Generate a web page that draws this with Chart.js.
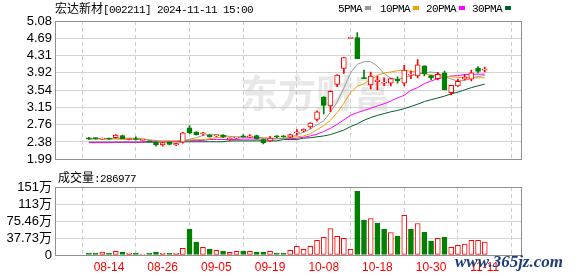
<!DOCTYPE html>
<html>
<head>
<meta charset="utf-8">
<script src="https://cdn.jsdelivr.net/npm/chart.js@4.4.1/dist/chart.umd.min.js"></script>
<style>
body { margin: 0; background: #fff; width: 578px; height: 276px; position: relative; overflow: hidden; }
canvas { position: absolute; left: 0; }
#main { top: 0; }
#vol { top: 170px; }
.t { position: absolute; white-space: nowrap; color: #000; font-size: 12px; line-height: 14px; }
.cjk { font-family: "Noto Sans CJK SC", sans-serif; }
.mono { font-family: "Liberation Mono", monospace; font-size: 11px; letter-spacing: -0.6px; }
.sq { position: absolute; width: 6px; height: 4px; top: 6px; }
#wm { position: absolute; left: 455px; top: 252px; font: bold italic 17px "Liberation Serif", serif; color: #1e3d7b; }
</style>
</head>
<body>
<canvas id="main" width="578" height="170"></canvas>
<canvas id="vol" width="578" height="106"></canvas>

<div class="t" style="left:55px;top:1px"><span class="cjk">宏达新材</span><span class="mono">[002211] 2024-11-11 15:00</span></div>

<div class="t mono" style="left:338px;top:2px">5PMA</div><div class="sq" style="left:365px;background:#999"></div>
<div class="t mono" style="left:380px;top:2px">10PMA</div><div class="sq" style="left:413px;background:#f0a000"></div>
<div class="t mono" style="left:426px;top:2px">20PMA</div><div class="sq" style="left:459px;background:#ff00ff"></div>
<div class="t mono" style="left:472px;top:2px">30PMA</div><div class="sq" style="left:505px;background:#00602a"></div>

<div class="t" style="left:58px;top:170px"><span class="cjk">成交量</span><span class="mono">:286977</span></div>
<div id="wm">www.365jz.com</div>

<script>
const dates = [
    '08-09','08-12','08-13','08-14','08-15','08-16','08-19','08-20','08-21','08-22',
    '08-23','08-26','08-27','08-28','08-29','08-30','09-02','09-03','09-04','09-05',
    '09-06','09-09','09-10','09-11','09-12','09-13','09-18','09-19','09-20','09-23',
    '09-24','09-25','09-26','09-27','09-30','10-08','10-09','10-10','10-11','10-14',
    '10-15','10-16','10-17','10-18','10-21','10-22','10-23','10-24','10-25','10-28',
    '10-29','10-30','10-31','11-01','11-04','11-05','11-06','11-07','11-08','11-11'
];
const dateTicks = ['08-14', '08-26', '09-05', '09-19', '10-08', '10-18', '10-30', '11-11'];

const opens = [
    2.47, 2.46, 2.44, 2.45, 2.47, 2.52, 2.43, 2.45, 2.41, 2.39,
    2.37, 2.31, 2.37, 2.31, 2.37, 2.69, 2.59, 2.56, 2.53, 2.51,
    2.53, 2.43, 2.46, 2.51, 2.48, 2.52, 2.43, 2.40, 2.50, 2.51,
    2.48, 2.58, 2.62, 2.71, 2.88, 3.38, 3.18, 3.66, 4.02, 4.69,
    4.71, 3.80, 3.65, 3.72, 3.69, 3.69, 3.78, 3.69, 3.87, 3.85,
    4.08, 3.86, 3.79, 3.92, 3.48, 3.63, 3.78, 3.78, 4.03, 3.98
];
const highs = [
    2.48, 2.47, 2.46, 2.46, 2.54, 2.53, 2.45, 2.49, 2.43, 2.40,
    2.38, 2.37, 2.38, 2.35, 2.59, 2.74, 2.61, 2.59, 2.54, 2.53,
    2.54, 2.47, 2.48, 2.54, 2.54, 2.53, 2.44, 2.50, 2.52, 2.52,
    2.55, 2.65, 2.67, 2.81, 3.07, 3.39, 3.52, 3.88, 4.27, 4.69,
    4.82, 3.98, 3.94, 3.85, 3.81, 3.80, 3.83, 4.09, 3.96, 4.22,
    4.08, 3.87, 3.93, 3.96, 3.64, 3.78, 3.89, 3.98, 4.06, 4.05
];
const lows = [
    2.43, 2.44, 2.43, 2.43, 2.46, 2.45, 2.42, 2.42, 2.40, 2.37,
    2.28, 2.28, 2.31, 2.29, 2.35, 2.56, 2.53, 2.53, 2.48, 2.49,
    2.47, 2.40, 2.45, 2.48, 2.47, 2.44, 2.33, 2.38, 2.47, 2.48,
    2.47, 2.53, 2.60, 2.68, 2.84, 3.00, 3.05, 3.61, 3.91, 4.69,
    4.24, 3.79, 3.56, 3.54, 3.63, 3.63, 3.69, 3.63, 3.79, 3.81,
    3.85, 3.77, 3.76, 3.54, 3.43, 3.62, 3.76, 3.74, 3.92, 3.94
];
const closes = [
    2.44, 2.45, 2.45, 2.44, 2.53, 2.45, 2.44, 2.43, 2.42, 2.38,
    2.31, 2.36, 2.32, 2.34, 2.58, 2.58, 2.54, 2.57, 2.49, 2.52,
    2.48, 2.46, 2.47, 2.49, 2.51, 2.45, 2.36, 2.46, 2.49, 2.49,
    2.54, 2.60, 2.66, 2.80, 3.05, 3.19, 3.51, 3.87, 4.26, 4.69,
    4.24, 3.79, 3.85, 3.76, 3.70, 3.79, 3.74, 3.98, 3.88, 4.10,
    3.90, 3.81, 3.89, 3.54, 3.64, 3.73, 3.83, 3.92, 3.95, 3.99
];

const ma5 = [
    2.45, 2.45, 2.45, 2.45, 2.46, 2.46, 2.46, 2.46, 2.45, 2.42,
    2.40, 2.38, 2.36, 2.34, 2.38, 2.44, 2.47, 2.52, 2.55, 2.54,
    2.52, 2.50, 2.48, 2.48, 2.48, 2.48, 2.46, 2.45, 2.45, 2.45,
    2.47, 2.54, 2.59, 2.66, 2.76, 2.85, 3.04, 3.27, 3.58, 3.92,
    4.11, 4.17, 4.17, 4.07, 3.90, 3.80, 3.77, 3.81, 3.86, 3.89,
    3.92, 3.94, 3.92, 3.84, 3.78, 3.74, 3.75, 3.80, 3.84, 3.86
];
const ma10 = [
    2.44, 2.44, 2.44, 2.44, 2.44, 2.43, 2.43, 2.43, 2.43, 2.42,
    2.41, 2.40, 2.40, 2.40, 2.41, 2.42, 2.43, 2.43, 2.45, 2.47,
    2.49, 2.49, 2.49, 2.49, 2.49, 2.48, 2.47, 2.46, 2.46, 2.46,
    2.48, 2.49, 2.51, 2.56, 2.65, 2.74, 2.86, 3.03, 3.24, 3.48,
    3.62, 3.68, 3.77, 3.86, 3.92, 3.94, 3.97, 3.97, 3.96, 3.93,
    3.90, 3.87, 3.85, 3.85, 3.83, 3.82, 3.81, 3.81, 3.81, 3.81
];
const ma20 = [
    2.36, 2.36, 2.36, 2.36, 2.37, 2.37, 2.37, 2.37, 2.37, 2.39,
    2.39, 2.39, 2.39, 2.39, 2.41, 2.41, 2.41, 2.41, 2.43, 2.43,
    2.43, 2.43, 2.43, 2.44, 2.44, 2.44, 2.44, 2.44, 2.45, 2.45,
    2.45, 2.46, 2.48, 2.51, 2.55, 2.61, 2.68, 2.77, 2.87, 2.97,
    3.03, 3.08, 3.13, 3.18, 3.23, 3.29, 3.36, 3.42, 3.53, 3.59,
    3.68, 3.74, 3.79, 3.82, 3.85, 3.86, 3.88, 3.89, 3.89, 3.89
];
const ma30 = [
    2.37, 2.37, 2.37, 2.37, 2.37, 2.37, 2.37, 2.37, 2.37, 2.37,
    2.37, 2.38, 2.38, 2.38, 2.38, 2.38, 2.38, 2.38, 2.38, 2.38,
    2.38, 2.40, 2.40, 2.40, 2.40, 2.40, 2.40, 2.40, 2.40, 2.43,
    2.43, 2.43, 2.46, 2.47, 2.49, 2.51, 2.54, 2.59, 2.64, 2.72,
    2.78, 2.86, 2.92, 2.97, 3.01, 3.05, 3.08, 3.12, 3.17, 3.22,
    3.28, 3.32, 3.36, 3.40, 3.45, 3.49, 3.54, 3.59, 3.63, 3.67
];

// volume in 万 shares, and whether the bar is drawn red (1) or green (0)
const volumes = [
    4.4, 4.4, 6.6, 4.4, 8.0, 6.6, 4.4, 4.4, 2.2, 4.4,
    6.6, 4.4, 4.4, 4.4, 14.7, 57.4, 28.7, 17.0, 13.2, 10.3,
    8.8, 5.9, 8.1, 8.8, 8.1, 6.6, 6.6, 8.1, 4.4, 4.4,
    10.3, 19.1, 12.5, 19.1, 32.4, 39.0, 58.9, 41.2, 36.8, 12.5,
    141.3, 77.3, 81.0, 70.7, 57.4, 50.0, 42.0, 88.3, 57.4, 70.0,
    50.8, 30.9, 36.8, 39.7, 16.9, 21.3, 24.3, 32.4, 32.4, 28.6977
];
const volUp = [
    0, 0, 1, 0, 1, 0, 1, 0, 1, 0,
    0, 1, 0, 1, 1, 0, 0, 1, 0, 1,
    0, 1, 1, 0, 1, 0, 0, 1, 0, 0,
    1, 1, 1, 1, 1, 1, 1, 1, 1, 1,
    0, 0, 1, 0, 0, 1, 0, 1, 0, 1,
    0, 0, 1, 0, 1, 1, 1, 1, 1, 1
];

const priceTicks = ['1.99', '2.38', '2.76', '3.15', '3.54', '3.92', '4.31', '4.69', '5.08'];
const priceMin = 1.99, priceMax = 5.08;
const volTicks = ['0', '37.73万', '75.46万', '113万', '151万'];
const volMax = 150.92;

const RED = '#ff0000';
const GREEN = '#008000';
const GRID = '#d4d4d4';

Chart.defaults.font.family = '"Liberation Sans", Arial, "Noto Sans CJK SC", sans-serif';
Chart.defaults.animation = false;

const frame = {
    id: 'frame',
    beforeDatasetsDraw(chart, args, opts) {
        const { ctx, chartArea: a } = chart;
        ctx.save();
        if (opts.watermark) {
            ctx.font = 'bold 38px "Noto Sans CJK SC", sans-serif';
            ctx.fillStyle = 'rgba(190,190,190,0.35)';
            ctx.textBaseline = 'middle';
            ctx.fillText('东方财富', 240, 93);
        }
        ctx.strokeStyle = '#909090';
        ctx.lineWidth = 1;
        ctx.strokeRect(Math.round(a.left) + 0.5, Math.round(a.top) + 0.5,
            Math.round(a.right - a.left) - 1, Math.round(a.bottom - a.top));
        ctx.restore();
    }
};

function xScale(showLabels) {
    return {
        type: 'linear',
        min: -0.7,
        max: 60.2,
        afterBuildTicks: s => { s.ticks = dateTicks.map(d => ({ value: dates.indexOf(d) })); },
        grid: { color: '#cfcfcf', drawTicks: false },
        border: { display: false, dash: [4, 3] },
        ticks: {
            display: showLabels,
            autoSkip: false,
            maxRotation: 0,
            color: RED,
            padding: 5,
            font: { size: 12 },
            callback: v => dates[v]
        },
        afterFit: s => { s.height = showLabels ? 21 : 0; }
    };
}

function yScale(min, max, labels) {
    return {
        min: min,
        max: max,
        afterBuildTicks: s => {
            s.ticks = labels.map((t, i) => ({ value: min + i * (max - min) / (labels.length - 1) }));
        },
        grid: { color: GRID, drawTicks: false },
        border: { display: false },
        ticks: {
            autoSkip: false,
            color: '#000',
            padding: 3,
            font: { size: 13 },
            callback: (v, i) => labels[i]
        },
        afterFit: s => { s.width = 55; }
    };
}

const isUp = i => closes[i] >= opens[i];
const xs = dates.map((d, i) => i);

function maLine(values, color) {
    return {
        type: 'line',
        data: xs.map(i => ({ x: i, y: values[i] })),
        borderColor: color,
        borderWidth: 1,
        pointRadius: 0,
        tension: 0,
        order: 3
    };
}

new Chart(document.getElementById('main'), {
    type: 'bar',
    data: {
        datasets: [
            {
                data: xs.map(i => ({ x: i, y: [lows[i], highs[i]] })),
                backgroundColor: xs.map(i => isUp(i) ? RED : GREEN),
                barThickness: 1,
                grouped: false,
                minBarLength: 1,
                order: 2
            },
            {
                data: xs.map(i => ({ x: i, y: [opens[i], closes[i]] })),
                backgroundColor: xs.map(i => isUp(i) ? '#fff' : GREEN),
                borderColor: xs.map(i => isUp(i) ? RED : GREEN),
                borderWidth: 1,
                borderSkipped: false,
                barThickness: 5,
                grouped: false,
                minBarLength: 1,
                order: 1
            },
            maLine(ma5, '#999999'),
            maLine(ma10, '#f0a000'),
            maLine(ma20, '#ff00ff'),
            maLine(ma30, '#00602a')
        ]
    },
    options: {
        responsive: false,
        devicePixelRatio: 1,
        layout: { padding: { top: 21, right: 56, bottom: 5, left: 0 } },
        plugins: { legend: { display: false }, tooltip: { enabled: false }, frame: { watermark: true } },
        scales: {
            x: xScale(false),
            y: yScale(priceMin, priceMax, priceTicks)
        }
    },
    plugins: [frame]
});

new Chart(document.getElementById('vol'), {
    type: 'bar',
    data: {
        datasets: [{
            data: xs.map(i => ({ x: i, y: volumes[i] })),
            backgroundColor: xs.map(i => volUp[i] ? '#fff' : GREEN),
            borderColor: xs.map(i => volUp[i] ? RED : GREEN),
            borderWidth: 1,
            borderSkipped: false,
            barThickness: 5,
            grouped: false
        }]
    },
    options: {
        responsive: false,
        devicePixelRatio: 1,
        layout: { padding: { top: 17, right: 56, bottom: 0, left: 0 } },
        plugins: { legend: { display: false }, tooltip: { enabled: false }, frame: { watermark: false } },
        scales: {
            x: xScale(true),
            y: yScale(0, volMax, volTicks)
        }
    },
    plugins: [frame]
});
</script>
</body>
</html>
